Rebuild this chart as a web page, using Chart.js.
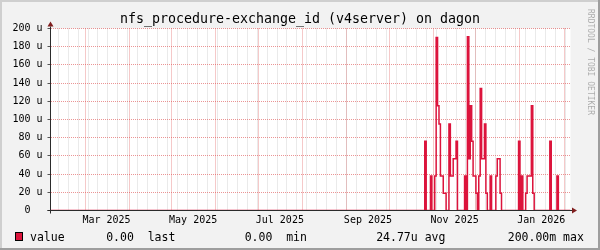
<!DOCTYPE html>
<html>
<head>
<meta charset="utf-8">
<script src="https://cdn.jsdelivr.net/npm/chart.js@4.4.1/dist/chart.umd.min.js"></script>
<style>
  html, body { margin: 0; padding: 0; background: #f2f2f2; }
  canvas { display: block; }
</style>
</head>
<body>
<canvas id="nfsChart" width="600" height="250"></canvas>
<script>
// x values are days counted from 2025-01-01
const X_MIN = 34.6;
const X_MAX = 400.55;

// month starts (major grid) and label positions (month start + 15 days, like rrdtool)
const monthStarts = [59, 90, 120, 151, 181, 212, 243, 273, 304, 334, 365, 396];
const labelDays = [74, 135, 196, 258, 319, 380];
const labelTexts = ['Mar 2025', 'May 2025', 'Jul 2025', 'Sep 2025', 'Nov 2025', 'Jan 2026'];
const firstMonday = 40;

const yLabels = ['0  ', '20 u', '40 u', '60 u', '80 u', '100 u', '120 u', '140 u', '160 u', '180 u', '200 u'];

// daily samples that are not zero (value in u)
const eventDays = [298, 302, 305, 306, 307, 308, 309, 310, 311, 312, 315, 316, 317, 318, 319, 320,
    326, 328, 329, 330, 331, 332, 333, 334, 336, 337, 338, 339, 340, 341, 344,
    348, 349, 350, 351, 364, 366, 369, 370, 371, 372, 373, 374, 386, 391];
const eventValues = [76, 38, 38, 190, 115, 95, 38, 38, 19, 19, 95, 38, 38, 57, 57, 76,
    38, 191, 57, 115, 76, 38, 38, 19, 38, 134, 57, 57, 95, 19, 38,
    38, 57, 57, 19, 76, 38, 19, 38, 38, 38, 115, 19, 76, 38];

const legendLine = 'value      0.00  last          0.00  min          24.77u avg         200.00m max';
const titleText = 'nfs_procedure-exchange_id (v4server) on dagon';

const LINE_COLOR = '#DC143C';
const GRID = 'rgba(143, 143, 143, 0.38)';
const MGRID = 'rgba(222, 79, 79, 0.6)';
const FONT = '"DejaVu Sans Mono", monospace';

function buildPoints() {
    const pts = [{ x: X_MIN, y: 0 }];
    eventDays.forEach((d, i) => {
        pts.push({ x: d, y: eventValues[i] });
        if (eventDays[i + 1] !== d + 1) pts.push({ x: d + 1, y: 0 });
    });
    pts.push({ x: X_MAX, y: 0 });
    return pts;
}

const rrdFrame = {
    id: 'rrdFrame',
    beforeDraw(chart) {
        const { ctx, chartArea: a, width, height } = chart;
        ctx.save();
        ctx.fillStyle = '#f2f2f2';
        ctx.fillRect(0, 0, width, height);
        ctx.fillStyle = '#cfcfcf';
        ctx.fillRect(0, 0, width, 2);
        ctx.fillRect(0, 0, 2, height);
        ctx.fillStyle = '#9e9e9e';
        ctx.fillRect(0, height - 2, width, 2);
        ctx.fillRect(width - 2, 0, 2, height);
        ctx.fillStyle = '#ffffff';
        ctx.fillRect(a.left, a.top, a.right - a.left, a.bottom - a.top);
        ctx.restore();
    },
    afterDatasetsDraw(chart) {
        const { ctx, chartArea: a } = chart;
        ctx.save();
        ctx.strokeStyle = '#2b2b2b';
        ctx.lineWidth = 1;
        ctx.beginPath();
        ctx.moveTo(a.left - 3, a.bottom);
        ctx.lineTo(a.right + 2, a.bottom);
        ctx.moveTo(a.left, a.bottom + 3);
        ctx.lineTo(a.left, a.top - 2);
        ctx.stroke();
        ctx.fillStyle = '#801f1f';
        ctx.beginPath();
        ctx.moveTo(a.right + 1.5, a.bottom - 3);
        ctx.lineTo(a.right + 1.5, a.bottom + 3);
        ctx.lineTo(a.right + 6.5, a.bottom);
        ctx.closePath();
        ctx.fill();
        ctx.beginPath();
        ctx.moveTo(a.left - 3, a.top - 2);
        ctx.lineTo(a.left + 3, a.top - 2);
        ctx.lineTo(a.left, a.top - 7);
        ctx.closePath();
        ctx.fill();
        ctx.restore();
    },
    afterDraw(chart) {
        const { ctx } = chart;
        ctx.save();
        ctx.fillStyle = '#000';
        ctx.font = '13.3px ' + FONT;
        ctx.textAlign = 'center';
        ctx.textBaseline = 'alphabetic';
        ctx.fillText(titleText, 300, 23);

        ctx.textAlign = 'left';
        ctx.font = '11.5px ' + FONT;
        ctx.fillText(legendLine, 30, 240.5);

        ctx.fillStyle = LINE_COLOR;
        ctx.fillRect(15.5, 232.5, 7, 8);
        ctx.strokeStyle = '#000';
        ctx.lineWidth = 1;
        ctx.strokeRect(15.5, 232.5, 7, 8);

        ctx.translate(590.5, 9);
        ctx.rotate(Math.PI / 2);
        ctx.font = '8px ' + FONT;
        ctx.fillStyle = 'rgba(0, 0, 0, 0.3)';
        ctx.textBaseline = 'middle';
        ctx.fillText('RRDTOOL / TOBI OETIKER', 0, 0);
        ctx.restore();
    }
};

new Chart(document.getElementById('nfsChart'), {
    type: 'line',
    data: {
        datasets: [{
            label: 'value',
            data: buildPoints(),
            borderColor: LINE_COLOR,
            borderWidth: 1.5,
            pointRadius: 0,
            fill: false,
            stepped: true,
            tension: 0
        }]
    },
    options: {
        responsive: false,
        animation: false,
        events: [],
        layout: { padding: { top: 28.5, right: 29.5, left: 0, bottom: 0 } },
        plugins: { legend: { display: false }, tooltip: { enabled: false } },
        scales: {
            x: {
                type: 'linear',
                position: 'bottom',
                min: X_MIN,
                max: X_MAX,
                afterBuildTicks: scale => {
                    const ticks = monthStarts.map(v => ({ value: v, major: true }));
                    for (let d = firstMonday; d < X_MAX; d += 7) {
                        ticks.push({ value: d, major: false });
                    }
                    scale.ticks = ticks.filter(t => t.value > X_MIN && t.value < X_MAX);
                },
                afterFit: scale => { scale.height = 0; },
                ticks: { display: false },
                grid: {
                    drawTicks: false,
                    color: ctx => (ctx.tick && ctx.tick.major ? MGRID : GRID)
                },
                border: { display: false, dash: [1, 1] }
            },
            xl: {
                type: 'linear',
                position: 'bottom',
                min: X_MIN,
                max: X_MAX,
                afterBuildTicks: scale => {
                    scale.ticks = labelDays.map(v => ({ value: v }));
                },
                afterFit: scale => { scale.height = 39.5; },
                grid: { display: false, drawTicks: false },
                border: { display: false },
                ticks: {
                    autoSkip: false,
                    maxRotation: 0,
                    padding: 4,
                    color: '#000',
                    font: { family: FONT, size: 10 },
                    callback: value => labelTexts[labelDays.indexOf(value)]
                }
            },
            y: {
                min: 0,
                max: 200,
                afterFit: scale => { scale.width = 50.5; },
                ticks: {
                    stepSize: 10,
                    padding: 5,
                    color: '#000',
                    font: { family: FONT, size: 10 },
                    callback: value => (value % 20 === 0 ? yLabels[value / 20] : '')
                },
                grid: {
                    tickLength: 3,
                    color: ctx => (ctx.tick && ctx.tick.value % 20 === 0 ? MGRID : GRID),
                    tickColor: ctx => (ctx.tick && ctx.tick.value % 20 === 0 ? '#555' : 'rgba(0,0,0,0)')
                },
                border: { display: false, dash: [1, 1] }
            }
        }
    },
    plugins: [rrdFrame]
});
</script>
</body>
</html>
